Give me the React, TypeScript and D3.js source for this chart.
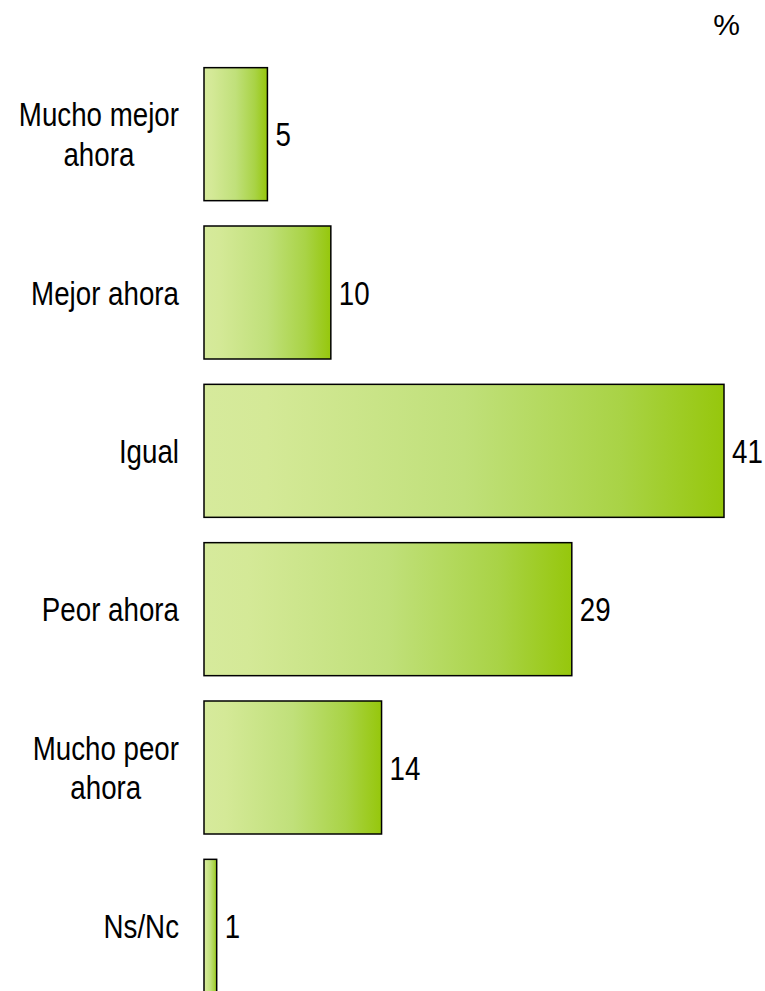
import React from "react";
import * as d3 from "d3";

const categories: string[][] = [
  ["Mucho mejor", "ahora"],
  ["Mejor ahora"],
  ["Igual"],
  ["Peor ahora"],
  ["Mucho peor", "ahora"],
  ["Ns/Nc"],
];
const values: number[] = [5, 10, 41, 29, 14, 1];
const unitLabel = "%";

const W = 765;
const H = 991;

let ctx: CanvasRenderingContext2D | null = null;
function measure(t: string, fs: number): number {
  if (!ctx) ctx = document.createElement("canvas").getContext("2d");
  if (!ctx) return t.length * fs * 0.5;
  ctx.font = `${fs}px 'Liberation Sans', Arial, sans-serif`;
  return ctx.measureText(t).width;
}

export default function App() {
  const keys = categories.map((c) => c.join(" "));
  const y = d3
    .scaleBand<string>()
    .domain(keys)
    .range([55, 1005])
    .paddingInner(0.16)
    .paddingOuter(0.08);
  const x = d3
    .scaleLinear()
    .domain([0, d3.max(values) as number])
    .range([204, 724]);
  const font = "'Liberation Sans Narrow', 'Liberation Sans', Arial, sans-serif";
  const fs = 33;
  const lh = 40;
  const sx = 0.84;
  const right = 179;

  return (
    <svg
      width={W}
      height={H}
      style={{ position: "absolute", left: 0, top: 0 }}
      xmlns="http://www.w3.org/2000/svg"
    >
      <defs>
        <linearGradient id="barGrad" x1="0" y1="0" x2="1" y2="0">
          <stop offset="0" stopColor="#d6ea9c" />
          <stop offset="0.12" stopColor="#d4e997" />
          <stop offset="0.5" stopColor="#c0e07a" />
          <stop offset="0.8" stopColor="#a9d346" />
          <stop offset="1" stopColor="#96c70c" />
        </linearGradient>
      </defs>
      <rect width={W} height={H} fill="#ffffff" />
      <text
        x={740}
        y={35}
        textAnchor="end"
        fontFamily="'Liberation Sans', Arial, sans-serif"
        fontSize={30}
        fill="#000"
      >
        {unitLabel}
      </text>
      {categories.map((lines, i) => {
        const key = keys[i];
        const y0 = y(key) as number;
        const bw = y.bandwidth();
        const cy = y0 + bw / 2;
        const v = values[i];
        const baseY = cy + 12 - ((lines.length - 1) * lh) / 2;
        const maxW = Math.max(...lines.map((l) => measure(l, fs)));
        const centerLocal = -maxW / 2;
        return (
          <g key={key}>
            <rect
              x={x(0)}
              y={y0}
              width={x(v) - x(0)}
              height={bw}
              fill="url(#barGrad)"
              stroke="#000"
              strokeWidth={1.5}
            />
            <g transform={`translate(${right},${baseY}) scale(${sx},1)`}>
              <text
                textAnchor={lines.length > 1 ? "middle" : "end"}
                fontFamily={font}
                fontSize={fs}
                fill="#000"
              >
                {lines.map((l, j) => (
                  <tspan key={j} x={lines.length > 1 ? centerLocal : 0} y={j * lh}>
                    {l}
                  </tspan>
                ))}
              </text>
            </g>
            <g transform={`translate(${x(v) + 8},${cy + 12}) scale(${sx},1)`}>
              <text x={0} y={0} fontFamily={font} fontSize={fs} fill="#000">
                {v}
              </text>
            </g>
          </g>
        );
      })}
    </svg>
  );
}
